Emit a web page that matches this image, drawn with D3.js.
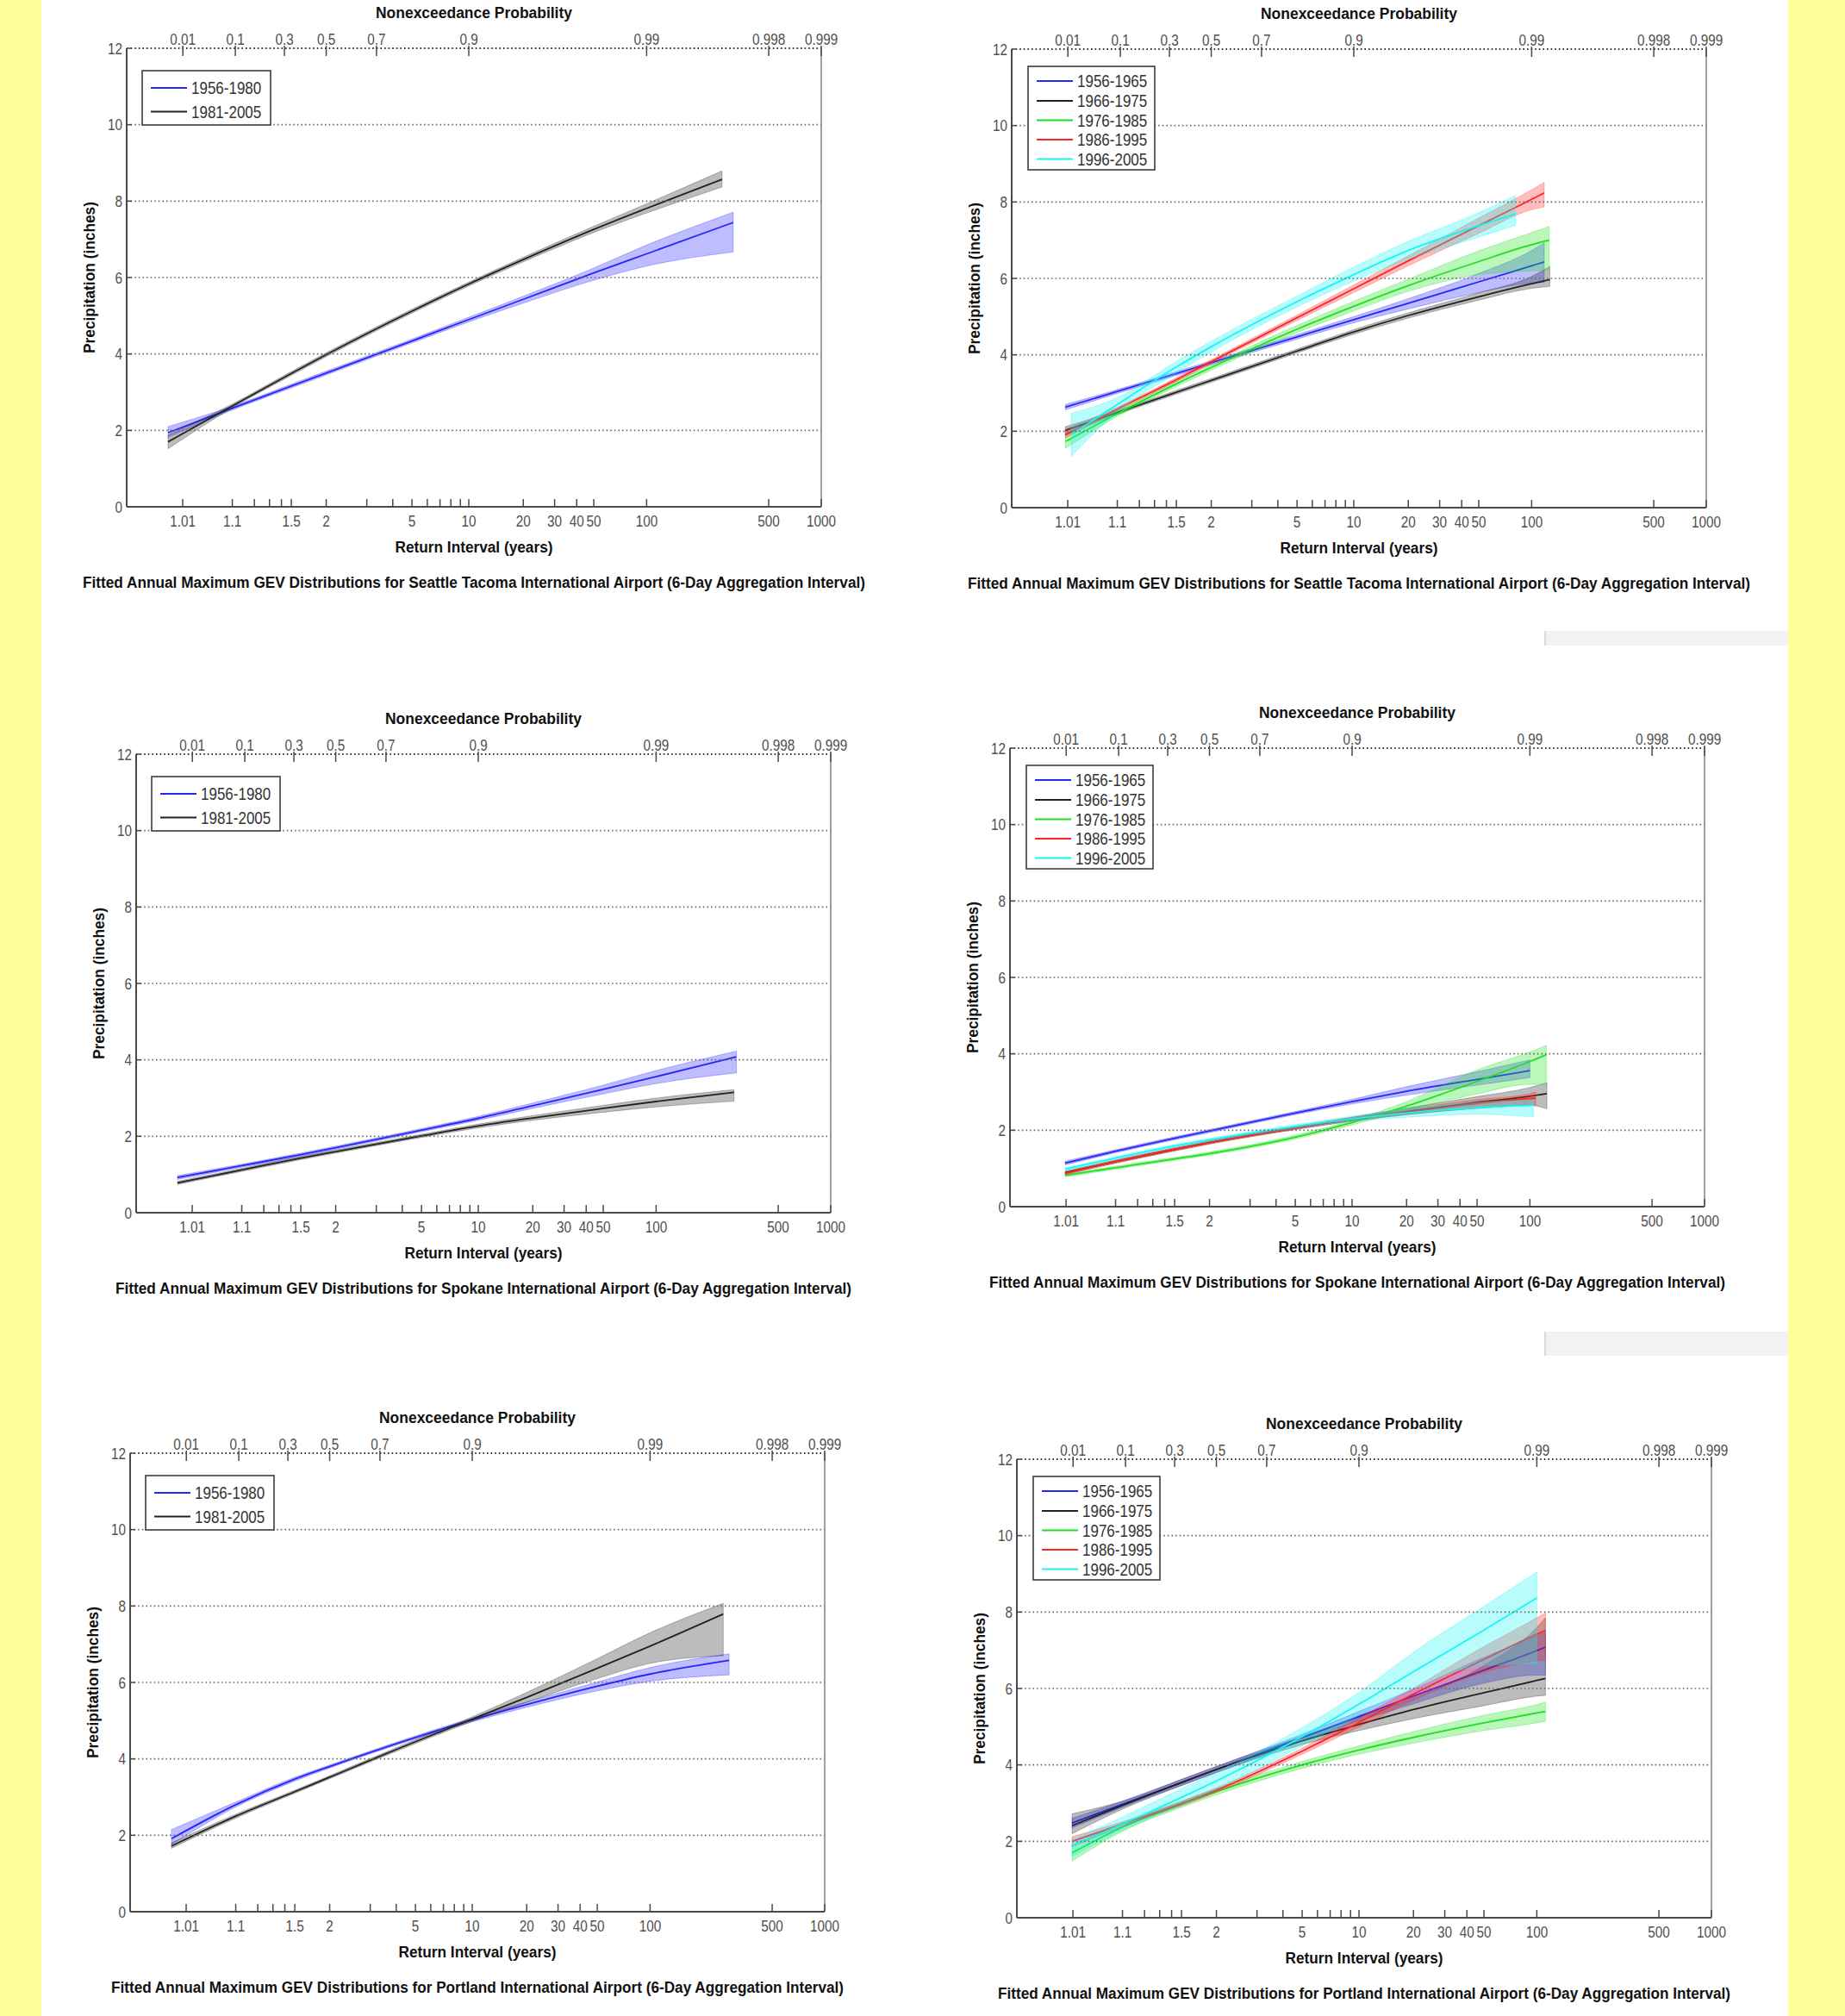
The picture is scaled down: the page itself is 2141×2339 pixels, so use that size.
<!DOCTYPE html>
<html><head><meta charset="utf-8">
<script src="https://cdn.jsdelivr.net/npm/d3@7"></script>
<style>body{margin:0;background:#fff}svg{display:block}</style>
</head><body>
<svg id="c" width="2141" height="2339"></svg>
<script>
// ---------------- DATA ----------------
const returnTickValues = [1.01, 1.1, 1.5, 2, 5, 10, 20, 30, 40, 50, 100, 500, 1000];
const returnTickLabels = ["1.01", "1.1", "1.5", "2", "5", "10", "20", "30", "40", "50", "100", "500", "1000"];
const returnMinorTicks = [1.2, 1.3, 1.4, 3, 4, 6, 7, 8, 9];
const probTickValues = [0.01, 0.1, 0.3, 0.5, 0.7, 0.9, 0.99, 0.998, 0.999];
const probTickLabels = ["0.01", "0.1", "0.3", "0.5", "0.7", "0.9", "0.99", "0.998", "0.999"];
const precipTicks = [0, 2, 4, 6, 8, 10, 12];
const periods2 = ["1956-1980", "1981-2005"];
const periods5 = ["1956-1965", "1966-1975", "1976-1985", "1986-1995", "1996-2005"];
const stations = ["Seattle Tacoma International Airport", "Spokane International Airport", "Portland International Airport"];

// Seattle Tacoma, two 25-year periods (return interval in years -> precipitation in inches)
const sea2_T = [
  [1.0037, 1.1, 1.5, 2, 5, 10, 20, 50, 100, 313],
  [1.0037, 1.1, 1.5, 2, 5, 10, 20, 50, 100, 270]];
const sea2_mid = [
  [1.94, 2.58, 3.16, 3.5, 4.34, 4.9, 5.43, 6.12, 6.62, 7.44],
  [1.70, 2.64, 3.49, 3.98, 5.12, 5.83, 6.47, 7.26, 7.81, 8.57]];
const sea2_lo = [
  [1.82, 2.53, 3.11, 3.45, 4.29, 4.84, 5.33, 5.93, 6.3, 6.67],
  [1.52, 2.59, 3.44, 3.93, 5.07, 5.78, 6.41, 7.18, 7.69, 8.37]];
const sea2_hi = [
  [2.1, 2.63, 3.21, 3.55, 4.39, 4.96, 5.51, 6.25, 6.85, 7.71],
  [1.88, 2.69, 3.54, 4.03, 5.17, 5.88, 6.53, 7.34, 7.93, 8.79]];

// Seattle Tacoma, five 10-year periods
const sea5_T = [
  [1.0086, 1.1, 1.5, 2, 5, 10, 20, 50, 100, 118],
  [1.0086, 1.1, 1.5, 2, 5, 10, 20, 50, 100, 127],
  [1.0086, 1.1, 1.5, 2, 5, 10, 20, 50, 100, 126],
  [1.0086, 1.1, 1.5, 2, 5, 10, 20, 50, 100, 118],
  [1.0123, 1.1, 1.5, 2, 5, 10, 20, 50, 81]];
const sea5_mid = [
  [2.63, 3.04, 3.51, 3.79, 4.47, 4.92, 5.35, 5.91, 6.33, 6.43],
  [2.02, 2.49, 3.02, 3.33, 4.10, 4.60, 5.03, 5.52, 5.86, 5.97],
  [1.73, 2.46, 3.24, 3.67, 4.67, 5.27, 5.81, 6.44, 6.88, 7.0],
  [1.9, 2.58, 3.35, 3.82, 4.97, 5.73, 6.46, 7.38, 8.07, 8.24],
  [1.91, 2.70, 3.68, 4.21, 5.39, 6.10, 6.73, 7.38, 7.69]];
const sea5_lo = [
  [2.56, 2.99, 3.46, 3.74, 4.41, 4.84, 5.2, 5.63, 5.88, 5.9],
  [1.93, 2.44, 2.97, 3.28, 4.05, 4.54, 4.96, 5.43, 5.74, 5.79],
  [1.55, 2.39, 3.17, 3.6, 4.58, 5.15, 5.66, 6.1, 6.2, 6.22],
  [1.82, 2.53, 3.3, 3.77, 4.9, 5.63, 6.33, 7.18, 7.8, 7.87],
  [1.35, 2.5, 3.52, 4.07, 5.25, 5.93, 6.5, 7.08, 7.39]];
const sea5_hi = [
  [2.7, 3.09, 3.56, 3.84, 4.53, 5.0, 5.47, 6.13, 6.73, 6.93],
  [2.12, 2.54, 3.07, 3.38, 4.15, 4.66, 5.1, 5.62, 6.05, 6.31],
  [1.95, 2.53, 3.31, 3.74, 4.77, 5.4, 5.98, 6.72, 7.2, 7.36],
  [2.05, 2.63, 3.4, 3.87, 5.04, 5.83, 6.59, 7.58, 8.32, 8.51],
  [2.47, 2.88, 3.83, 4.36, 5.54, 6.3, 6.97, 7.72, 8.17]];

// Spokane, two periods
const spo2_T = [
  [1.0037, 1.1, 1.5, 2, 5, 10, 20, 50, 100, 288],
  [1.0037, 1.1, 1.5, 2, 5, 10, 20, 50, 100, 279]];
const spo2_mid = [
  [0.92, 1.23, 1.52, 1.70, 2.16, 2.47, 2.80, 3.23, 3.56, 4.08],
  [0.78, 1.12, 1.43, 1.6, 2.01, 2.27, 2.48, 2.73, 2.91, 3.15]];
const spo2_lo = [
  [0.87, 1.19, 1.48, 1.66, 2.12, 2.42, 2.73, 3.11, 3.38, 3.66],
  [0.74, 1.08, 1.39, 1.56, 1.97, 2.22, 2.42, 2.63, 2.77, 2.92]];
const spo2_hi = [
  [0.97, 1.27, 1.56, 1.74, 2.2, 2.52, 2.87, 3.34, 3.72, 4.23],
  [0.82, 1.16, 1.47, 1.64, 2.05, 2.32, 2.54, 2.81, 3.0, 3.22]];

// Spokane, five periods
const spo5_T = [
  [1.0095, 1.1, 1.5, 2, 5, 10, 20, 50, 100],
  [1.0095, 1.1, 1.5, 2, 5, 10, 20, 50, 100, 125],
  [1.0095, 1.1, 1.5, 2, 5, 10, 20, 50, 100, 124],
  [1.0095, 1.1, 1.5, 2, 5, 10, 20, 50, 100, 108],
  [1.0095, 1.1, 1.5, 2, 5, 10, 20, 50, 105]];
const spo5_mid = [
  [1.14, 1.45, 1.79, 1.98, 2.45, 2.75, 3.02, 3.33, 3.56],
  [0.89, 1.18, 1.5, 1.68, 2.06, 2.29, 2.49, 2.73, 2.89, 2.96],
  [0.82, 1.02, 1.25, 1.39, 1.82, 2.2, 2.63, 3.28, 3.8, 3.98],
  [0.87, 1.18, 1.5, 1.68, 2.06, 2.29, 2.48, 2.7, 2.83, 2.84],
  [0.98, 1.27, 1.59, 1.75, 2.1, 2.3, 2.45, 2.59, 2.66]];
const spo5_lo = [
  [1.09, 1.41, 1.75, 1.94, 2.41, 2.69, 2.92, 3.18, 3.38],
  [0.85, 1.14, 1.46, 1.64, 2.02, 2.24, 2.41, 2.57, 2.65, 2.56],
  [0.78, 0.98, 1.21, 1.35, 1.77, 2.14, 2.52, 2.95, 3.2, 3.2],
  [0.83, 1.14, 1.46, 1.64, 2.02, 2.24, 2.41, 2.58, 2.67, 2.65],
  [0.94, 1.23, 1.55, 1.71, 2.05, 2.23, 2.34, 2.42, 2.35]];
const spo5_hi = [
  [1.19, 1.49, 1.83, 2.02, 2.49, 2.81, 3.14, 3.53, 3.84],
  [0.93, 1.22, 1.54, 1.72, 2.1, 2.34, 2.58, 2.88, 3.12, 3.24],
  [0.86, 1.06, 1.29, 1.43, 1.87, 2.26, 2.75, 3.58, 4.05, 4.22],
  [0.91, 1.22, 1.54, 1.72, 2.1, 2.34, 2.55, 2.8, 2.96, 3.0],
  [1.02, 1.31, 1.63, 1.79, 2.15, 2.37, 2.56, 2.73, 2.79]];

// Portland, two periods
const por2_T = [
  [1.0037, 1.1, 1.5, 2, 5, 10, 20, 50, 100, 283],
  [1.0037, 1.1, 1.5, 2, 5, 10, 20, 50, 100, 262]];
const por2_mid = [
  [1.91, 2.8, 3.47, 3.8, 4.56, 5.02, 5.42, 5.9, 6.22, 6.58],
  [1.72, 2.5, 3.14, 3.52, 4.45, 5.04, 5.61, 6.37, 6.95, 7.79]];
const por2_lo = [
  [1.76, 2.74, 3.42, 3.76, 4.52, 4.97, 5.35, 5.78, 6.03, 6.2],
  [1.66, 2.45, 3.1, 3.48, 4.4, 4.98, 5.48, 6.1, 6.5, 6.7]];
const por2_hi = [
  [2.15, 2.87, 3.52, 3.84, 4.6, 5.07, 5.49, 6.01, 6.39, 6.75],
  [1.8, 2.55, 3.18, 3.56, 4.5, 5.1, 5.74, 6.62, 7.3, 8.07]];

// Portland, five periods
const por5_T = [
  [1.0095, 1.1, 1.5, 2, 5, 10, 20, 50, 100, 112],
  [1.0095, 1.1, 1.5, 2, 5, 10, 20, 50, 100, 112],
  [1.0095, 1.1, 1.5, 2, 5, 10, 20, 50, 100, 112],
  [1.0095, 1.1, 1.5, 2, 5, 10, 20, 50, 100, 112],
  [1.0095, 1.1, 1.5, 2, 5, 10, 20, 50, 100]];
const por5_mid = [
  [2.48, 2.97, 3.54, 3.88, 4.71, 5.27, 5.8, 6.48, 6.99, 7.08],
  [2.41, 2.94, 3.54, 3.88, 4.63, 5.06, 5.45, 5.89, 6.21, 6.26],
  [1.7, 2.37, 2.97, 3.3, 4.0, 4.39, 4.72, 5.1, 5.36, 5.4],
  [2.0, 2.45, 2.99, 3.34, 4.36, 5.11, 5.85, 6.76, 7.42, 7.52],
  [1.88, 2.45, 3.15, 3.58, 4.74, 5.59, 6.44, 7.53, 8.37]];
const por5_lo = [
  [2.35, 2.89, 3.46, 3.8, 4.62, 5.15, 5.6, 6.14, 6.35, 6.35],
  [2.2, 2.84, 3.46, 3.8, 4.53, 4.9, 5.21, 5.55, 5.8, 5.82],
  [1.48, 2.26, 2.89, 3.22, 3.91, 4.28, 4.57, 4.9, 5.1, 5.14],
  [1.85, 2.39, 2.93, 3.28, 4.28, 4.99, 5.69, 6.42, 6.72, 6.75],
  [1.6, 2.29, 2.95, 3.35, 4.5, 5.3, 6.0, 6.6, 6.65]];
const por5_hi = [
  [2.6, 3.05, 3.62, 3.96, 4.8, 5.4, 5.98, 6.82, 7.38, 7.48],
  [2.72, 3.05, 3.62, 3.96, 4.74, 5.25, 5.75, 6.6, 7.6, 7.85],
  [1.9, 2.48, 3.05, 3.38, 4.09, 4.5, 4.87, 5.3, 5.58, 5.64],
  [2.12, 2.51, 3.05, 3.4, 4.44, 5.23, 6.01, 7.1, 7.85, 7.98],
  [2.05, 2.64, 3.38, 3.8, 4.98, 5.9, 6.95, 8.15, 9.05]];

// ---------------- STYLE / LAYOUT ----------------
const colors2 = ["#2525ff", "#222222"];
const colors5 = ["#2525ff", "#222222", "#1ee01e", "#ff2525", "#14f5f5"];
const FONT = "'Liberation Sans', Arial, Helvetica, sans-serif";
const W = 806, H = 532;
const legend2 = {dx: 18, dy: 26, w: 149, h: 63, rows: [20, 47.5]};
const legend5 = {dx: 19, dy: 20, w: 147, h: 120, rows: [17, 40, 62.5, 85, 107.5]};

const panels = [
  {left: 147, top: 56,  T: sea2_T, mid: sea2_mid, lo: sea2_lo, hi: sea2_hi, names: periods2, colors: colors2, leg: legend2, station: stations[0], cw: 908},
  {left: 1174, top: 57, T: sea5_T, mid: sea5_mid, lo: sea5_lo, hi: sea5_hi, names: periods5, colors: colors5, leg: legend5, station: stations[0], cw: 908},
  {left: 158, top: 875, T: spo2_T, mid: spo2_mid, lo: spo2_lo, hi: spo2_hi, names: periods2, colors: colors2, leg: legend2, station: stations[1], cw: 854},
  {left: 1172, top: 868, T: spo5_T, mid: spo5_mid, lo: spo5_lo, hi: spo5_hi, names: periods5, colors: colors5, leg: legend5, station: stations[1], cw: 854},
  {left: 151, top: 1686, T: por2_T, mid: por2_mid, lo: por2_lo, hi: por2_hi, names: periods2, colors: colors2, leg: legend2, station: stations[2], cw: 850},
  {left: 1180, top: 1693, T: por5_T, mid: por5_mid, lo: por5_lo, hi: por5_hi, names: periods5, colors: colors5, leg: legend5, station: stations[2], cw: 850}
];

// ---------------- DRAW ----------------
const svg = d3.select("#c");
svg.append("rect").attr("width", 2141).attr("height", 2339).attr("fill", "#ffffff");
svg.append("rect").attr("x", 0).attr("y", 0).attr("width", 48).attr("height", 2339).attr("fill", "#ffff99");
svg.append("rect").attr("x", 2075).attr("y", 0).attr("width", 66).attr("height", 2339).attr("fill", "#ffff99");
[[732, 17], [1545, 28]].forEach(([yy, hh]) => {
  svg.append("rect").attr("x", 1792).attr("y", yy).attr("width", 283).attr("height", hh).attr("fill", "#f2f2f2");
  svg.append("rect").attr("x", 1792).attr("y", yy).attr("width", 2).attr("height", hh).attr("fill", "#dcdcdc");
});

const gumbel = p => -Math.log(-Math.log(p));
const probOfReturn = T => 1 - 1 / T;
const uMin = -2.27, uMax = gumbel(0.999);

function condensedText(g, x, y, txt, opts) {
  return g.append("text")
    .attr("transform", `translate(${x},${y}) scale(${opts.sx || 0.85},1)`)
    .attr("text-anchor", opts.anchor || "middle")
    .attr("font-family", FONT)
    .attr("font-size", opts.size || 18)
    .attr("fill", opts.fill || "#505050")
    .text(txt);
}

panels.forEach((pn) => {
  const g = svg.append("g").attr("transform", `translate(${pn.left},${pn.top})`);
  const x = d3.scaleLinear().domain([uMin, uMax]).range([0, W]);
  const y = d3.scaleLinear().domain([0, 12]).range([H, 0]);
  const xT = T => x(gumbel(probOfReturn(T)));

  // series: confidence band, then fitted line
  pn.mid.forEach((mids, i) => {
    const col = pn.colors[i];
    const pts = pn.T[i].map((t, j) => ({t: t, m: mids[j], lo: pn.lo[i][j], hi: pn.hi[i][j]}));
    const area = d3.area().x(d => xT(d.t)).y0(d => y(d.lo)).y1(d => y(d.hi)).curve(d3.curveMonotoneX);
    g.append("path").attr("d", area(pts))
      .attr("fill", col).attr("fill-opacity", 0.3)
      .attr("stroke", col).attr("stroke-opacity", 0.3).attr("stroke-width", 1);
    const line = d3.line().x(d => xT(d.t)).y(d => y(d.m)).curve(d3.curveMonotoneX);
    g.append("path").attr("d", line(pts))
      .attr("fill", "none").attr("stroke", col).attr("stroke-width", 1.8);
  });

  // horizontal dotted grid
  precipTicks.filter(v => v > 0).forEach(v => {
    g.append("line").attr("x1", 0).attr("x2", W).attr("y1", y(v)).attr("y2", y(v))
      .attr("stroke", v === 12 ? "#333" : "#6a6a6a")
      .attr("stroke-width", v === 12 ? 2 : 1.6)
      .attr("stroke-dasharray", "1.6 3");
  });

  // frame
  g.append("line").attr("x1", 0).attr("x2", 0).attr("y1", 0).attr("y2", H).attr("stroke", "#4a4a4a").attr("stroke-width", 2);
  g.append("line").attr("x1", 0).attr("x2", W).attr("y1", H).attr("y2", H).attr("stroke", "#4a4a4a").attr("stroke-width", 2);
  g.append("line").attr("x1", W).attr("x2", W).attr("y1", 0).attr("y2", H).attr("stroke", "#8a8a8a").attr("stroke-width", 1.6);

  // y ticks + labels
  precipTicks.forEach(v => {
    g.append("line").attr("x1", 0).attr("x2", 6).attr("y1", y(v)).attr("y2", y(v)).attr("stroke", "#4a4a4a").attr("stroke-width", 1.5);
    condensedText(g, -5, y(v) + 6.5, String(v), {anchor: "end"});
  });

  // bottom ticks (return interval)
  returnTickValues.concat(returnMinorTicks).forEach(T => {
    const xx = xT(T);
    g.append("line").attr("x1", xx).attr("x2", xx).attr("y1", H).attr("y2", H - 9).attr("stroke", "#4a4a4a").attr("stroke-width", 1.5);
  });
  returnTickValues.forEach((T, k) => condensedText(g, xT(T), H + 23, returnTickLabels[k], {}));

  // top ticks (nonexceedance probability)
  probTickValues.forEach((p, k) => {
    const xx = x(gumbel(p));
    g.append("line").attr("x1", xx).attr("x2", xx).attr("y1", -3).attr("y2", 9).attr("stroke", "#4a4a4a").attr("stroke-width", 1.5);
    condensedText(g, xx, -4, probTickLabels[k], {});
  });

  // titles
  const bold = (xx, yy, txt, len, rot) => {
    const t = g.append("text")
      .attr("x", rot ? 0 : xx).attr("y", rot ? 0 : yy)
      .attr("text-anchor", "middle").attr("font-family", FONT)
      .attr("font-weight", "bold").attr("font-size", 18).attr("fill", "#111")
      .attr("textLength", len).attr("lengthAdjust", "spacingAndGlyphs")
      .text(txt);
    if (rot) t.attr("transform", `translate(${xx},${yy}) rotate(-90)`);
    return t;
  };
  bold(W / 2, -35.5, "Nonexceedance Probability", 228);
  bold(W / 2, H + 52.5, "Return Interval (years)", 183);
  bold(-37.5, H / 2, "Precipitation (inches)", 176, true);
  bold(W / 2, H + 93.5, `Fitted Annual Maximum GEV Distributions for ${pn.station} (6-Day Aggregation Interval)`, pn.cw);

  // legend
  const L = pn.leg;
  const lg = g.append("g").attr("transform", `translate(${L.dx},${L.dy})`);
  lg.append("rect").attr("width", L.w).attr("height", L.h).attr("fill", "#fff").attr("stroke", "#3c3c3c").attr("stroke-width", 1.6);
  pn.names.forEach((nm, i) => {
    const ry = L.rows[i];
    lg.append("line").attr("x1", 10).attr("x2", 52).attr("y1", ry).attr("y2", ry).attr("stroke", pn.colors[i]).attr("stroke-width", 2);
    condensedText(lg, 57, ry + 7, nm, {anchor: "start", size: 20, fill: "#333"});
  });
});
</script>
</body></html>
